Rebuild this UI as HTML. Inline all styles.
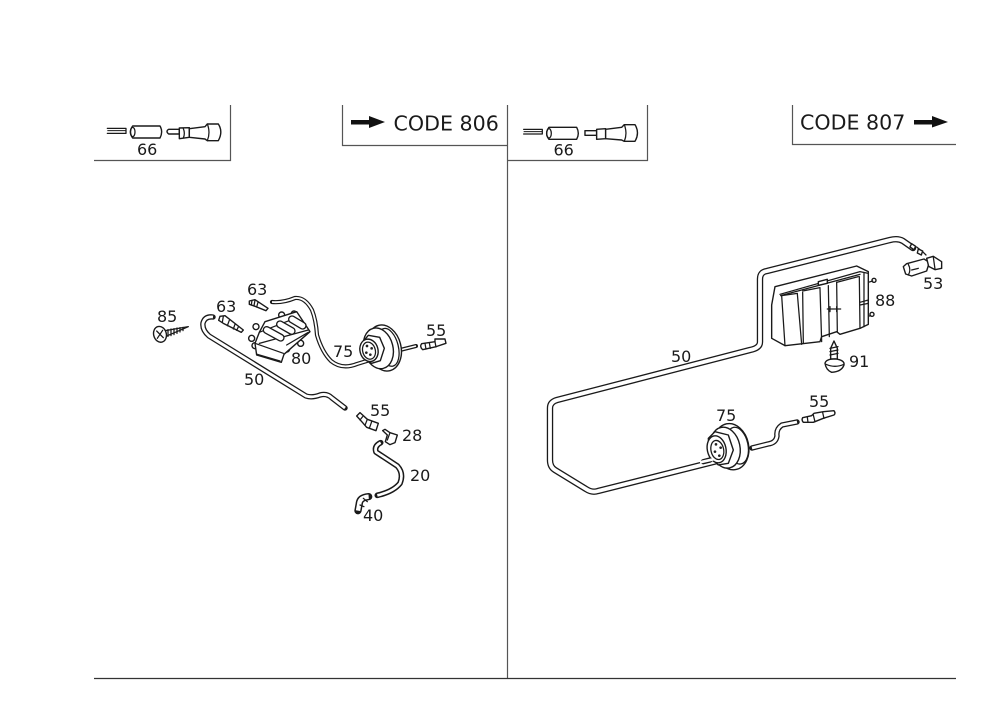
<!DOCTYPE html>
<html><head><meta charset="utf-8"><style>
html,body{margin:0;padding:0;background:#fff}
svg{display:block}
text{font-family:"DejaVu Sans","Liberation Sans",sans-serif;fill:#1a1a1a;font-size:16px}
.c{font-size:20.6px}
.t{fill:none;stroke:#1a1a1a;stroke-linecap:round;stroke-linejoin:round}
.w{fill:none;stroke:#fff;stroke-linecap:butt;stroke-linejoin:round}
.p{fill:#fff;stroke:#1a1a1a;stroke-width:4.2;stroke-linejoin:round;stroke-linecap:round}
.n{fill:none;stroke:#1a1a1a;stroke-width:3.8;stroke-linejoin:round;stroke-linecap:round}
</style></head><body>
<svg xmlns="http://www.w3.org/2000/svg" width="1000" height="707" viewBox="0 0 1000 707">
<rect width="1000" height="707" fill="#fff"/>
<g fill="none" stroke="#555" stroke-width="1.2">
<path d="M230.500 105V160.500H94"/>
<path d="M342.500 105V145.500H508"/>
<path d="M507.500 105V678"/>
<path d="M647.500 105V160.500H508"/>
<path d="M792.500 105V144.500H956"/>
</g>
<path d="M94 678.500H956" stroke="#333" stroke-width="1.2"/>

<!-- arrows -->
<path d="M351 120H369V116L385 122L369 128V124.500H351Z" fill="#111"/>
<path d="M914 120H932V116L948 122L932 127.500V124.500H914Z" fill="#111"/>
<text class="c" x="393.500" y="130.500">CODE 806</text>
<text class="c" x="800" y="129.500">CODE 807</text>

<!-- 66 left -->
<g transform="translate(90,100) scale(.3333)">
<path class="n" d="M52 85H108V100H52"/><path d="M52 92H108" stroke="#1a1a1a" stroke-width="3"/>
<path class="p" d="M128 78H210Q220 95 210 114H128Q115 95 128 78Z"/>
<ellipse class="n" cx="128" cy="96" rx="7" ry="14"/>
<path class="p" d="M268 88H236Q226 94 236 102H268Z"/>
<path class="p" d="M268 84L298 83V112L268 116Z"/>
<path class="p" d="M298 86L345 80L352 72H385Q400 95 385 122H352L345 117L298 112Z"/>
<path class="n" d="M352 72Q362 97 352 122M280 86Q286 100 280 114"/>
</g>
<text x="137" y="155">66</text>
<!-- 66 right -->
<g transform="translate(335,100) scale(.3333)">
<path class="n" d="M566 88H622V102H566"/><path d="M566 95H622" stroke="#1a1a1a" stroke-width="3"/>
<path class="p" d="M642 82H725Q735 100 725 118H642Q628 100 642 82Z"/>
<ellipse class="n" cx="642" cy="100" rx="7" ry="14"/>
<path class="p" d="M785 92H750V106H785Z"/>
<path class="p" d="M785 88L812 86V116L785 118Z"/>
<path class="p" d="M812 88L860 82L868 74H900Q915 98 900 124H868L860 120L812 116Z"/>
<path class="n" d="M868 74Q878 100 868 124"/>
</g>
<text x="553.500" y="155.500">66</text>

<!-- tubes left -->
<path class="t" stroke-width="5.400" d="M213 317Q205 316 203 323Q202 330 209 336L306 396Q312 398 320 395Q327 393 332 398L345 408"/>
<path class="w" stroke-width="2.800" d="M213 317Q205 316 203 323Q202 330 209 336L306 396Q312 398 320 395Q327 393 332 398L345 408"/>
<path class="t" stroke-width="4.200" d="M272 302Q283 303 295 298Q305 297 312 310Q316 320 317 335Q322 352 331 361Q342 370 357 364L370 360"/>
<path class="w" stroke-width="1.800" d="M272 302Q283 303 295 298Q305 297 312 310Q316 320 317 335Q322 352 331 361Q342 370 357 364L370 360"/>
<path class="t" stroke-width="4" d="M400 350L416 346"/>
<path class="w" stroke-width="1.600" d="M400 350L416 346"/>

<!-- valve left -->
<g transform="translate(355,320) scale(.3333)">
<ellipse class="p" cx="88" cy="84" rx="50" ry="70" transform="rotate(-14 88 84)"/>
<ellipse class="n" cx="100" cy="82" rx="30" ry="58" transform="rotate(-14 100 82)"/>
<ellipse class="p" cx="70" cy="85" rx="44" ry="62" transform="rotate(-14 70 85)"/>
<path class="p" d="M18 72L40 46L74 52L88 85L76 122L50 130L25 115Z"/>
<ellipse class="p" cx="42" cy="91" rx="27" ry="34" transform="rotate(-15 42 91)"/>
<ellipse class="n" cx="42" cy="92" rx="19" ry="26" transform="rotate(-15 42 92)"/>
<circle cx="36" cy="78" r="4" fill="#222"/><circle cx="50" cy="85" r="4" fill="#222"/><circle cx="34" cy="98" r="4" fill="#222"/><circle cx="46" cy="104" r="4" fill="#222"/>
</g>

<!-- 63 fittings, 85, 55, 80 -->
<g transform="translate(140,275) scale(.3333)">
<path class="p" d="M328 78L345 74L384 100L378 107L340 92L328 88Z"/>
<path class="n" d="M336 76L334 90M345 76L342 92M354 82L350 96"/>
<path class="p" d="M240 124L255 122L310 165L304 172L250 145L236 136Z"/>
<path class="n" d="M250 124L247 142M268 136L262 152M285 148L280 162M295 156L290 166"/>
<!-- screw 85 -->
<path class="n" d="M76 167L145 155L78 184" />
<path class="n" stroke-width="4.500" d="M84 164V184M93 162V182M102 161V179M111 159V175M120 158V171M129 157V167"/>
<ellipse class="p" cx="60" cy="178" rx="19" ry="24" transform="rotate(-15 60 178)"/>
<path class="n" d="M50 168L70 188M68 166L52 190"/>
<!-- 55 left -->
<path class="p" d="M845 206L885 200V192L915 192L918 205L885 216L848 224Q838 215 845 206Z"/>
<path class="n" d="M855 205L858 222M868 203L871 220M885 200L888 216"/>
<!-- clip 80 -->
<circle class="p" cx="348" cy="155" r="9"/><circle class="p" cx="335" cy="190" r="9"/><circle class="p" cx="345" cy="212" r="9"/>
<circle class="p" cx="425" cy="120" r="9"/><circle class="p" cx="462" cy="116" r="8"/>
<circle class="p" cx="440" cy="222" r="9"/><circle class="p" cx="482" cy="205" r="9"/>
<path class="p" d="M375 140L470 110L510 170L432 238L424 262L350 240L345 205L358 172Z"/>
<path class="n" d="M358 172L465 130M345 205L430 235M358 205L505 165M352 238L420 258M440 210L505 172"/>
<g fill="none" stroke-linecap="round">
<path d="M380 165L422 188M420 148L455 168M456 133L488 152" stroke="#1a1a1a" stroke-width="24"/>
<path d="M380 165L422 188M420 148L455 168M456 133L488 152" stroke="#fff" stroke-width="16"/>
</g>
</g>

<!-- lower left parts -->
<g transform="translate(310,390) scale(.3333)">
<path class="t" stroke-width="17" d="M212 158Q192 168 198 186L262 228Q282 250 270 280Q250 305 202 316"/>
<path class="w" stroke-width="8" d="M212 158Q192 168 198 186L262 228Q282 250 270 280Q250 305 202 316"/>
<path class="t" stroke-width="22" d="M176 320Q150 322 148 340L144 362"/>
<path class="w" stroke-width="13" d="M176 320Q150 322 148 340L144 362"/>
<path class="n" d="M160 325L172 335M150 345L162 350"/>
<path class="p" d="M140 78L150 68L172 88L205 100L198 122L170 112L158 98Z"/>
<path class="n" d="M158 80L150 90M172 88L165 106M185 95L178 115"/>
<path class="p" d="M218 122L225 118L240 128L262 135L255 158L240 164L226 155L232 135Z"/>
<path class="n" d="M240 128L232 150"/>
</g>

<!-- right big tube -->
<path class="t" stroke-width="6.400" d="M717 461L598 491Q592 493 586 489L555 470Q550 467 550 460V408Q550 402 557 400L750 350Q760 348 760 342V279Q760 272 767 271L890 240Q898 238 903 241L913 248"/>
<path class="w" stroke-width="3.800" d="M717 461L598 491Q592 493 586 489L555 470Q550 467 550 460V408Q550 402 557 400L750 350Q760 348 760 342V279Q760 272 767 271L890 240Q898 238 903 241L913 248"/>
<path class="t" stroke-width="5.400" d="M752 448L768 444Q776 443 777 436Q776 429 782 425L797 422"/>
<path class="w" stroke-width="2.800" d="M752 448L768 444Q776 443 777 436Q776 429 782 425L797 422"/>

<!-- box 88 -->
<g transform="translate(740,225) scale(.3333)">
<circle class="p" cx="402" cy="166" r="6"/><circle class="p" cx="396" cy="268" r="6"/>
<path class="n" d="M385 172L398 168M385 274L392 272"/>
<path class="p" d="M105 185L350 123L385 140V298L360 310L300 328L290 320L245 335L240 350L135 362L95 340V240Z"/>
<path class="n" stroke-width="4.500" d="M120 208L360 140L385 145M122 212L360 148"/>
<path class="n" d="M125 212L135 362M172 206L185 358M188 202L190 355M240 190L245 350M265 182L268 335M290 172L292 320M358 155L360 310M372 145V305"/>
<path class="n" d="M125 212L172 205M188 198L240 188M290 172L355 155"/>
<path class="p" d="M235 170L262 163V175L235 181Z"/>
<path class="n" stroke-width="5" d="M262 252H302"/>
<path class="n" d="M270 245V260M290 245V260M360 232L385 225V235L360 240"/>
<!-- 53 -->
<path class="n" d="M530 66L540 74M548 80L558 90"/>
<path class="p" d="M515 56L527 64L522 74L510 66Z"/>
<path class="p" d="M535 72L548 78L544 90L532 84Z"/>
<path class="p" d="M490 125L500 116L552 102L568 112L560 138L515 153L497 147Z"/>
<path class="n" d="M505 118Q514 135 505 150M515 135L535 130"/>
<path class="p" d="M560 100L580 94L605 110V130L585 134L566 124Z"/>
<path class="n" d="M580 96L585 132"/>
<!-- screw 91 -->
<path class="p" d="M282 348L292 370V402H272V370Z"/>
<path class="n" stroke-width="4.500" d="M270 370L294 365M270 380L294 375M270 390L294 385"/>
<path class="p" d="M255 415Q258 402 285 402Q315 405 312 420Q305 440 275 442Q258 435 255 415Z"/>
<path class="n" d="M258 418Q285 430 312 418"/>
</g>

<!-- valve right + 55 -->
<g transform="translate(540,385) scale(.3333)">
<ellipse class="p" cx="574" cy="185" rx="52" ry="70" transform="rotate(-12 574 185)"/>
<ellipse class="n" cx="592" cy="182" rx="32" ry="56" transform="rotate(-12 592 182)"/>
<ellipse class="p" cx="556" cy="188" rx="44" ry="62" transform="rotate(-12 556 188)"/>
<path class="p" d="M505 160L525 140L565 150L580 195L565 235L535 240L510 215Z"/>
<ellipse class="p" cx="530" cy="193" rx="28" ry="41" transform="rotate(-12 530 193)"/>
<ellipse class="n" cx="532" cy="195" rx="19" ry="29" transform="rotate(-12 532 195)"/>
<circle cx="528" cy="178" r="4" fill="#222"/><circle cx="542" cy="188" r="4" fill="#222"/><circle cx="525" cy="200" r="4" fill="#222"/><circle cx="538" cy="212" r="4" fill="#222"/>
<path class="t" stroke-width="16" d="M510 225L490 230"/><path class="w" stroke-width="8" d="M520 223L480 232"/>
<path class="p" d="M788 98L815 92L822 85L850 80L882 77Q888 85 882 90L850 100L820 112L790 112Q784 105 788 98Z"/>
<path class="n" d="M802 96L804 112M820 90L825 110M848 82L852 100"/>
</g>

<text x="247" y="295">63</text>
<text x="216" y="312">63</text>
<text x="157" y="322">85</text>
<text x="291" y="364">80</text>
<text x="333" y="357">75</text>
<text x="426" y="336">55</text>
<text x="244" y="385">50</text>
<text x="370" y="416">55</text>
<text x="402" y="441">28</text>
<text x="410" y="481">20</text>
<text x="363" y="521">40</text>
<text x="671" y="362">50</text>
<text x="716" y="421">75</text>
<text x="809" y="407">55</text>
<text x="875" y="306">88</text>
<text x="849" y="367">91</text>
<text x="923" y="289">53</text>
</svg>
</body></html>
